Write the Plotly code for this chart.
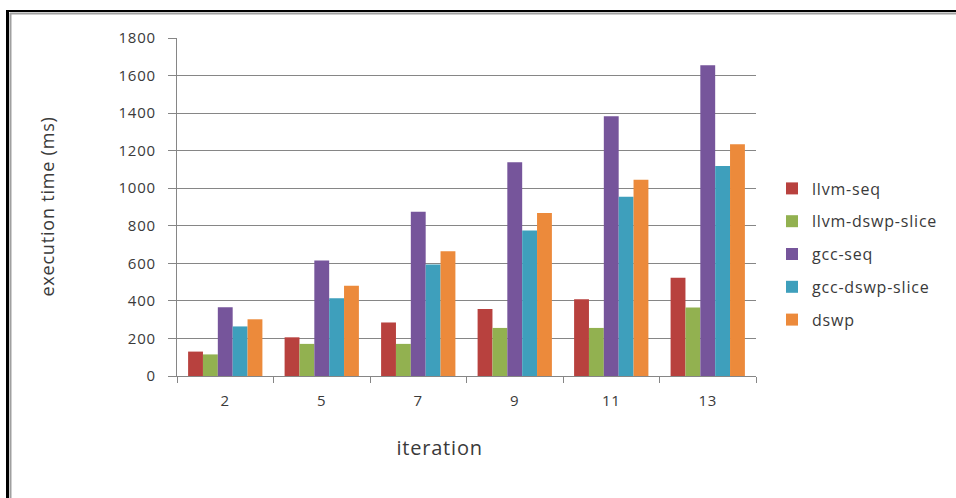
import plotly.graph_objects as go

iterations = ["2", "5", "7", "9", "11", "13"]
llvm_seq = [130, 206, 285, 357, 409, 523]
llvm_dswp_slice = [115, 171, 171, 256, 256, 365]
gcc_seq = [366, 615, 875, 1138, 1383, 1655]
gcc_dswp_slice = [264, 414, 594, 775, 955, 1118]
dswp = [302, 480, 665, 868, 1045, 1234]

series = [
    ("llvm-seq", llvm_seq, "#B8413E"),
    ("llvm-dswp-slice", llvm_dswp_slice, "#92B150"),
    ("gcc-seq", gcc_seq, "#76559B"),
    ("gcc-dswp-slice", gcc_dswp_slice, "#3E9FBC"),
    ("dswp", dswp, "#EC8A3B"),
]

FONT = "Open Sans"
TXT = "#3a3a3a"
fig = go.Figure()
for name, vals, col in series:
    fig.add_trace(go.Bar(name=name, x=iterations, y=vals, marker_color=col,
                         marker_line_width=0, legendgroup=name))

W, H = 956, 498
L, R, T, B = 177, 756, 38, 376

def px(x):
    return (x - L) / (R - L)

def py(y):
    return (B - y) / (B - T)

fig.update_layout(
    width=W, height=H,
    margin=dict(l=L, r=W - R, t=T, b=H - B),
    paper_bgcolor="white", plot_bgcolor="white",
    barmode="group", bargap=0.23, bargroupgap=0,
    font=dict(family=FONT, size=15, color=TXT),
    showlegend=True,
    legend=dict(x=px(772), y=py(254), xanchor="left", yanchor="middle",
                font=dict(family=FONT, size=16, color=TXT),
                tracegroupgap=9, bgcolor="rgba(0,0,0,0)"),
    xaxis=dict(type="category", tickson="boundaries", ticks="outside", ticklen=6,
               tickcolor="#868686", showline=True, linecolor="#868686", linewidth=1,
               showgrid=False, ticklabelstandoff=11,
               tickfont=dict(family=FONT, size=15, color=TXT)),
    yaxis=dict(range=[0, 1800], dtick=200, ticks="outside", ticklen=8,
               tickcolor="#868686", showline=True, linecolor="#868686", linewidth=1,
               showgrid=True, gridcolor="#868686", gridwidth=1, zeroline=False,
               ticklabelstandoff=9,
               tickfont=dict(family=FONT, size=15, color=TXT)),
    annotations=[
        dict(text="execution time (ms)", xref="paper", yref="paper",
             x=px(47), y=py(207), textangle=-90, showarrow=False,
             xanchor="center", yanchor="middle",
             font=dict(family=FONT, size=18, color=TXT)),
        dict(text="iteration", xref="paper", yref="paper",
             x=px(439), y=py(447), showarrow=False,
             xanchor="center", yanchor="middle",
             font=dict(family=FONT, size=20, color=TXT)),
    ],
    shapes=[
        dict(type="line", xref="paper", yref="paper", x0=px(7.5), x1=px(7.5),
             y0=py(10), y1=py(498), line=dict(color="black", width=3)),
        dict(type="line", xref="paper", yref="paper", x0=px(10.5), x1=px(10.5),
             y0=py(13), y1=py(498), line=dict(color="#A0A0A0", width=2)),
        dict(type="line", xref="paper", yref="paper", x0=px(6), x1=px(956),
             y0=py(11), y1=py(11), line=dict(color="black", width=2)),
        dict(type="line", xref="paper", yref="paper", x0=px(10), x1=px(956),
             y0=py(13.5), y1=py(13.5), line=dict(color="#A0A0A0", width=2)),
    ],
)

post = """
document.body.style.margin='0';
document.querySelectorAll('.main-svg text').forEach(function(t){t.style.letterSpacing='0.8px';});
document.querySelectorAll('.legend [clip-path]').forEach(function(e){e.removeAttribute('clip-path');});
"""
fig.write_html("out.html", post_script=post, config={"displayModeBar": False})
